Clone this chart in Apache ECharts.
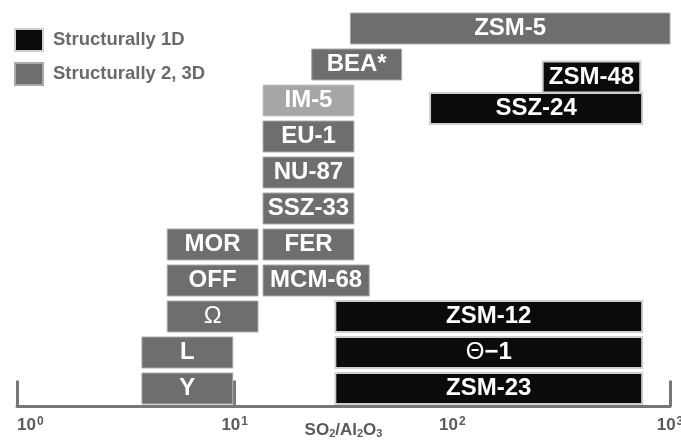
<!DOCTYPE html>
<html><head><meta charset="utf-8">
<script src="https://cdn.jsdelivr.net/npm/echarts@6/dist/echarts.min.js"></script>
<style>html,body{margin:0;padding:0;background:#fff}#c{width:681px;height:441px}</style>
</head><body><div id="c"></div>
<script>
// Structurally 1D zeolites: SiO2/Al2O3 range and row position
const names1D = ['ZSM-48', 'SSZ-24', 'ZSM-12', 'Θ−1', 'ZSM-23'];
const start1D = [260, 79, 29, 29, 29];
const end1D   = [730, 745, 745, 745, 745];
const row1D   = [8.65, 7.78, 2, 1, 0];

// Structurally 2, 3D zeolites
const names23D = ['ZSM-5', 'BEA*', 'IM-5', 'EU-1', 'NU-87', 'SSZ-33', 'FER', 'MOR', 'OFF', 'MCM-68', 'Ω', 'L', 'Y'];
const start23D = [34, 22.6, 13.5, 13.5, 13.5, 13.5, 13.5, 4.9, 4.9, 13.5, 4.9, 3.75, 3.75];
const end23D   = [1000, 58.5, 35.3, 35.3, 35.3, 35.3, 35.3, 12.8, 12.8, 41.5, 12.8, 9.8, 9.8];
const row23D   = [10, 9, 8, 7, 6, 5, 4, 4, 3, 3, 2, 1, 0];
const lightItems = ['IM-5'];

const legendNames = ['Structurally 1D', 'Structurally 2, 3D'];
const xTicks = [1, 10, 100, 1000];

const FONT = '"Liberation Sans", Arial, sans-serif';

function build(names, s, e, r) {
  return names.map((n, i) => [s[i], e[i], r[i], n]);
}

function makeRender(kind) {
  return function (params, api) {
    const x0 = api.value(0), x1 = api.value(1), y = api.value(2);
    const name = kind === '1D' ? names1D[params.dataIndex] : names23D[params.dataIndex];
    const a = api.coord([x0, y + 0.43]);
    const b = api.coord([x1, y - 0.43]);
    let fill, stroke, lw;
    if (kind === '1D') { fill = '#0b0b0b'; stroke = '#cfcfcf'; lw = 2; }
    else if (lightItems.indexOf(name) >= 0) { fill = '#a6a6a6'; stroke = '#c4c4c4'; lw = 1; }
    else { fill = '#6e6e6e'; stroke = '#a9a9a9'; lw = 1; }
    let text, rich = {
      t: { fontFamily: FONT, fontSize: 24, fontWeight: 'normal', fill: '#fff', color: '#fff' },
      b: { fontFamily: FONT, fontSize: 24, fontWeight: 'bold', fill: '#fff', color: '#fff' }
    };
    if (name === 'Θ−1') text = '{t|Θ}{b|−1}';
    else if (name === 'Ω') text = '{t|Ω}';
    else text = '{b|' + name + '}';
    return {
      type: 'rect',
      shape: { x: a[0], y: a[1], width: b[0] - a[0], height: b[1] - a[1] },
      style: { fill: fill, stroke: stroke, lineWidth: lw },
      textContent: {
        style: { text: text, rich: rich, fill: '#fff', align: 'center', verticalAlign: 'middle' }
      },
      textConfig: { position: 'inside' }
    };
  };
}

const chart = echarts.init(document.getElementById('c'), null, { renderer: 'canvas' });
chart.setOption({
  animation: false,
  backgroundColor: '#fff',
  legend: {
    data: legendNames,
    orient: 'vertical',
    left: 9, top: 23,
    itemWidth: 28, itemHeight: 22, itemGap: 10,
    selectedMode: false,
    icon: 'rect',
    textStyle: { fontFamily: FONT, fontSize: 18.5, fontWeight: 'bold', color: '#6a6a6a', padding: [0, 0, 0, 5] }
  },
  grid: { left: 17, right: 11, top: 10.5, bottom: 34.5, containLabel: false, outerBoundsMode: 'none' },
  xAxis: {
    type: 'log', logBase: 10, min: xTicks[0], max: xTicks[xTicks.length - 1],
    name: 'SO{sub|2}/Al{sub|2}O{sub|3}',
    nameLocation: 'middle', nameGap: 14, nameMoveOverlap: false,
    nameTextStyle: {
      fontFamily: FONT, fontSize: 17, fontWeight: 'bold', color: '#5a5a5a',
      rich: { sub: { fontFamily: FONT, fontSize: 11, fontWeight: 'bold', color: '#5a5a5a', verticalAlign: 'bottom', padding: [8, 0, 0, 0] } }
    },
    axisLine: { show: true, onZero: false, lineStyle: { color: '#777', width: 3 } },
    axisTick: { show: true, inside: true, length: 26, lineStyle: { color: '#777', width: 3 } },
    minorTick: { show: false },
    splitLine: { show: false },
    axisLabel: {
      margin: 9,
      alignMinLabel: 'left',
      formatter: function (v) { return '{b|10}{s|' + Math.round(Math.log10(v)) + '}'; },
      rich: {
        b: { fontFamily: FONT, fontSize: 17, fontWeight: 'bold', color: '#5a5a5a', lineHeight: 20 },
        s: { fontFamily: FONT, fontSize: 12, fontWeight: 'bold', color: '#5a5a5a', verticalAlign: 'top', lineHeight: 20, padding: [0, 0, 6, 1] }
      }
    }
  },
  yAxis: { type: 'value', min: -0.5, max: 10.5, show: false },
  series: [
    {
      name: legendNames[0], type: 'custom', renderItem: makeRender('1D'),
      itemStyle: { color: '#0b0b0b', borderColor: '#cfcfcf', borderWidth: 1 },
      encode: { x: [0, 1], y: 2 }, clip: false,
      data: build(names1D, start1D, end1D, row1D)
    },
    {
      name: legendNames[1], type: 'custom', renderItem: makeRender('23D'),
      itemStyle: { color: '#6e6e6e', borderColor: '#a9a9a9', borderWidth: 1 },
      encode: { x: [0, 1], y: 2 }, clip: false,
      data: build(names23D, start23D, end23D, row23D)
    }
  ]
});
</script></body></html>
